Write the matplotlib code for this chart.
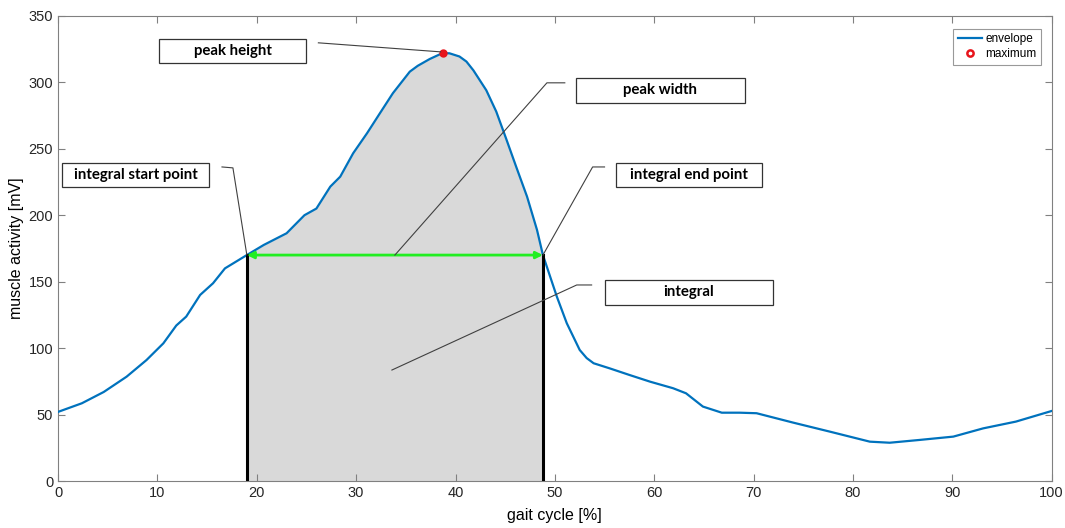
import matplotlib
matplotlib.use("Agg")
import matplotlib.pyplot as plt
from matplotlib.patches import Rectangle
from matplotlib.lines import Line2D
import numpy as np

# envelope
gait = [0, 2.4, 4.6, 6.9, 8.9, 10.6, 11.9, 12.9, 14.3, 15.6, 16.8, 19.0,
        20.7, 23.0, 24.8, 26.0, 27.4, 28.4, 29.7, 31.1, 32.4, 33.7, 35.4, 36.2, 37.4, 38.7,
        39.4, 40.4, 41.1, 41.8, 43.1, 44.1, 45.1, 46.1, 47.2, 48.2, 48.8,
        50.2, 51.2, 52.5, 53.2, 53.9, 55.5, 57.5, 59.6, 61.9, 63.2, 64.9, 66.8, 68.6,
        70.3, 74.0, 77.7, 81.7, 83.7, 86.7, 90.1, 93.1, 96.4, 100]
activity = [52, 58.5, 67, 78.5, 91, 103.6, 117, 123.7, 140, 148.8, 160, 170,
            177.6, 186.4, 200, 205, 221.5, 229, 246.6, 261.7, 276.8, 291.8, 308, 312.4, 317.5, 322,
            321.8, 319.4, 315.6, 309, 294, 278, 257.5, 236.6, 214, 189, 170,
            138.7, 118.7, 98.6, 92.5, 88.6, 84.8, 79.8, 74.7, 69.8, 66, 56, 51.4, 51.4,
            51, 43.9, 37.1, 29.6, 28.8, 30.9, 33.4, 39.6, 44.7, 52.7]

peak_x, peak_y = 38.7, 322
start_x, end_x = 19.0, 48.8
width_y = 170

labels = ["peak height", "integral start point", "peak width", "integral end point", "integral"]
# box extents (x0, x1, y0, y1) in data units
boxes = [(10.2, 25.0, 314.6, 332.7), (0.4, 15.2, 221.3, 239.4), (52.1, 69.1, 284.5, 303.3),
         (56.2, 70.8, 221.3, 239.4), (55.0, 72.0, 132.5, 151.3)]
leaders = [[(26.2, 329.7), (38.5, 322.9)],
           [(16.5, 236.3), (17.6, 235.6), (19.0, 170.1)],
           [(51.0, 299.6), (49.2, 299.6), (33.9, 170)],
           [(55.0, 236.3), (53.8, 236.3), (48.8, 170)],
           [(53.7, 147.5), (52.2, 147.5), (33.6, 83.5)]]

x = np.array(gait)
y = np.array(activity)

fig = plt.figure(figsize=(10.65, 5.28), dpi=100)
ax = fig.add_axes([0.0545, 0.089, 0.933, 0.881])

mask = (x >= start_x) & (x <= end_x)
ax.fill_between(x[mask], y[mask], 0, color="#d9d9d9", lw=0, zorder=1)
ax.plot(x, y, color="#0072BD", lw=1.6, zorder=3, solid_joinstyle="round")
ax.plot([start_x, start_x], [0, width_y], color="black", lw=2.2, zorder=4)
ax.plot([end_x, end_x], [0, width_y], color="black", lw=2.2, zorder=4)
ax.annotate("", xy=(end_x, width_y), xytext=(start_x, width_y),
            arrowprops=dict(arrowstyle="<|-|>", color="#22ee22", lw=2,
                            mutation_scale=10, shrinkA=0, shrinkB=0), zorder=5)
ax.plot([peak_x], [peak_y], "o", color="#e8141b", mfc="#e8141b", ms=4.5, mew=1.5,
        ls="none", zorder=6)

for lbl, (x0, x1, y0, y1), pts in zip(labels, boxes, leaders):
    ax.add_patch(Rectangle((x0, y0), x1 - x0, y1 - y0, fc="white", ec="#333333",
                           lw=0.9, zorder=7, clip_on=False))
    ax.text((x0 + x1) / 2, (y0 + y1) / 2, lbl, ha="center", va="center",
            fontsize=10.8, fontweight="bold", family="Lato", zorder=8)
    px, py = zip(*pts)
    ax.plot(px, py, color="#404040", lw=0.8, zorder=6)

ax.set_xlim(0, 100)
ax.set_ylim(0, 350)
ax.set_xticks(np.arange(0, 101, 10))
ax.set_yticks(np.arange(0, 351, 50))
ax.tick_params(direction="in", top=True, right=True, length=5, width=0.8,
               color="#808080", labelsize=10.5, labelcolor="#262626")
for lab in ax.get_xticklabels() + ax.get_yticklabels():
    lab.set_family("Liberation Sans")
for s in ax.spines.values():
    s.set_color("#808080")
    s.set_linewidth(0.8)
ax.set_xlabel("gait cycle [%]", fontsize=11.5, family="Liberation Sans", labelpad=6)
ax.set_ylabel("muscle activity [mV]", fontsize=11.5, family="Liberation Sans", labelpad=3)

handles = [Line2D([], [], color="#0072BD", lw=1.6),
           Line2D([], [], marker="o", color="#e8141b", mfc="white", ms=4.5, mew=1.8, ls="none")]
leg = ax.legend(handles, ["envelope", "maximum"], loc="upper right",
                bbox_to_anchor=(0.9955, 0.985), frameon=True, fancybox=False,
                edgecolor="#808080", handlelength=2.0, handletextpad=0.3,
                borderpad=0.4, labelspacing=0.25,
                prop={"family": "Liberation Sans", "size": 8.5})
leg.get_frame().set_linewidth(0.8)

fig.savefig("out.png", dpi=100)
